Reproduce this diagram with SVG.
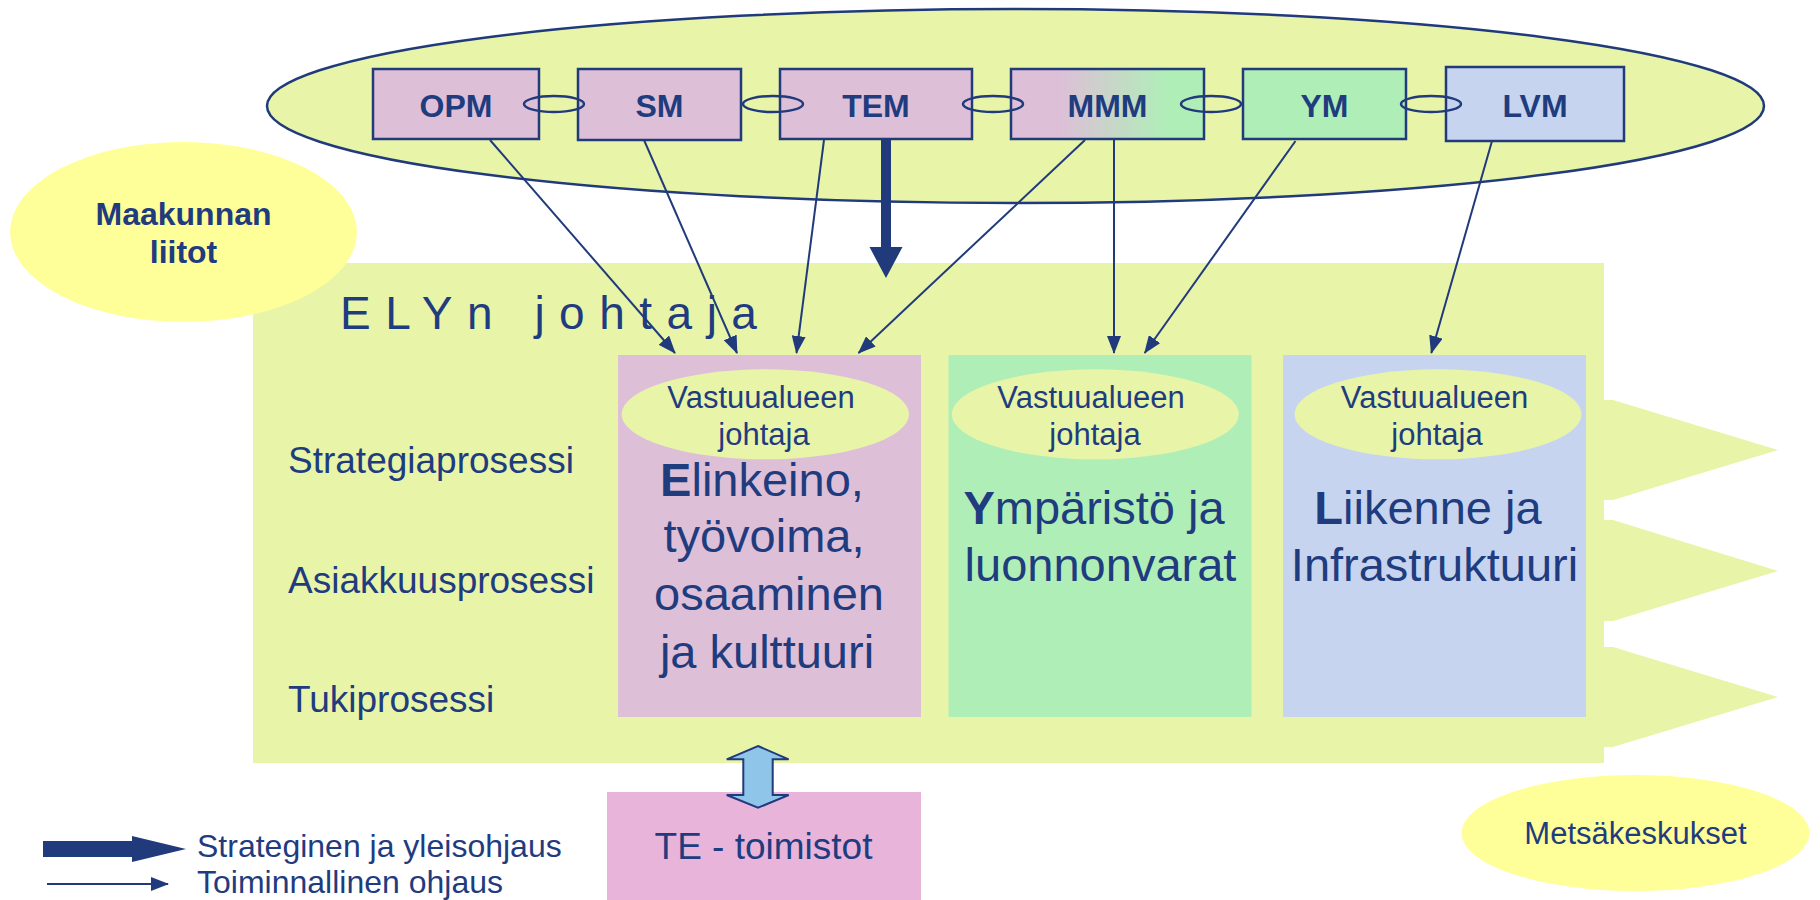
<svg xmlns="http://www.w3.org/2000/svg" width="1820" height="900" viewBox="0 0 1820 900">
<style>
text{font-family:"Liberation Sans",Arial,sans-serif;fill:#1F3C7F}
.box{stroke:#203A7C;stroke-width:2.5}
.lnk{fill:none;stroke:#203A7C;stroke-width:2.5}
.con{stroke:#203A7C;stroke-width:2;fill:none;marker-end:url(#ah)}
.bt{font-weight:bold;font-size:32px;text-anchor:middle}
.va{font-size:31px;text-anchor:middle}
.pt{font-size:47px;text-anchor:middle}
.lab{font-size:37px}
.leg{font-size:32px}
.main{fill:#E8F5A8}
</style>
<defs>
<marker id="ah" markerUnits="userSpaceOnUse" markerWidth="18" markerHeight="14" refX="17" refY="7" orient="auto" viewBox="0 0 18 14">
<path d="M0,0 L18,7 L0,14 z" fill="#203A7C"/>
</marker>
<linearGradient id="gmmm" x1="0" y1="0" x2="1" y2="0">
<stop offset="0.25" stop-color="#DEBFD8"/>
<stop offset="0.8" stop-color="#B0EEB8"/>
</linearGradient>
</defs>
<rect width="1820" height="900" fill="#FFFFFF"/>

<g id="ely">
<rect class="main" x="253" y="263" width="1351" height="500"/>
<polygon class="main" points="1604,400 1613,400 1778,450 1613,500 1604,500"/>
<polygon class="main" points="1604,520 1613,520 1778,571 1613,621 1604,621"/>
<polygon class="main" points="1604,647 1613,647 1778,697 1613,747 1604,747"/>
<text x="340" y="329" font-size="46" letter-spacing="14.5">ELYn johtaja</text>
<text class="lab" x="288" y="473">Strategiaprosessi</text>
<text class="lab" x="288" y="593">Asiakkuusprosessi</text>
<text class="lab" x="288" y="712">Tukiprosessi</text>
</g>

<g id="ministeriot">
<ellipse cx="1015.5" cy="106" rx="748.5" ry="97" fill="#E8F5A8" stroke="#203A7C" stroke-width="2.5"/>
</g>

<g id="maakunnan-liitot">
<ellipse cx="183.5" cy="232" rx="173.5" ry="90" fill="#FFFF99"/>
<text class="bt" x="183.5" y="225">Maakunnan</text>
<text class="bt" x="183.5" y="263">liitot</text>
</g>

<g id="OPM"><rect class="box" x="373" y="69" width="166" height="70" fill="#DEBFD8"/><text class="bt" x="456" y="117">OPM</text></g>
<g id="SM"><rect class="box" x="578" y="69" width="163" height="71" fill="#DEBFD8"/><text class="bt" x="659.5" y="117">SM</text></g>
<g id="TEM"><rect class="box" x="780" y="69" width="192" height="70" fill="#DEBFD8"/><text class="bt" x="876" y="117">TEM</text></g>
<g id="MMM"><rect class="box" x="1011" y="69" width="193" height="70" fill="url(#gmmm)"/><text class="bt" x="1107.5" y="117">MMM</text></g>
<g id="YM"><rect class="box" x="1243" y="69" width="163" height="70" fill="#B0EEB8"/><text class="bt" x="1324.5" y="117">YM</text></g>
<g id="LVM"><rect class="box" x="1446" y="67" width="178" height="74" fill="#C6D4F0"/><text class="bt" x="1535" y="117">LVM</text></g>

<g id="links">
<ellipse class="lnk" cx="554" cy="104" rx="30" ry="8"/>
<ellipse class="lnk" cx="773" cy="104" rx="30" ry="8"/>
<ellipse class="lnk" cx="993" cy="104" rx="30" ry="8"/>
<ellipse class="lnk" cx="1211" cy="104" rx="30" ry="8"/>
<ellipse class="lnk" cx="1431" cy="104" rx="30" ry="8"/>
</g>

<g id="elinkeino">
<rect x="618" y="355" width="303" height="362" fill="#DEBFD8"/>
<ellipse cx="765.3" cy="414.3" rx="143.7" ry="45" fill="#E8F5A8"/>
<text class="va" x="761" y="408">Vastuualueen</text>
<text class="va" x="764" y="445">johtaja</text>
<text class="pt" x="762" y="496"><tspan font-weight="bold">E</tspan>linkeino,</text>
<text class="pt" x="764" y="552">työvoima,</text>
<text class="pt" x="769" y="610">osaaminen</text>
<text class="pt" x="767" y="668">ja kulttuuri</text>
</g>

<g id="ymparisto">
<rect x="948.5" y="355" width="303" height="362" fill="#B0EEB8"/>
<ellipse cx="1095.3" cy="414.3" rx="143.5" ry="45" fill="#E8F5A8"/>
<text class="va" x="1091" y="408">Vastuualueen</text>
<text class="va" x="1095" y="445">johtaja</text>
<text class="pt" x="1094" y="524"><tspan font-weight="bold">Y</tspan>mpäristö ja</text>
<text class="pt" x="1100.5" y="581" font-size="50">luonnonvarat</text>
</g>

<g id="liikenne">
<rect x="1283" y="355" width="303" height="362" fill="#C6D4F0"/>
<ellipse cx="1438" cy="414.3" rx="143.5" ry="45" fill="#E8F5A8"/>
<text class="va" x="1434.5" y="408">Vastuualueen</text>
<text class="va" x="1437" y="445">johtaja</text>
<text class="pt" x="1428" y="524"><tspan font-weight="bold">L</tspan>iikenne ja</text>
<text class="pt" x="1434.5" y="581">Infrastruktuuri</text>
</g>

<g id="te-toimistot">
<rect x="607" y="792" width="314" height="108" fill="#E8B4DA"/>
<text x="763.5" y="859" font-size="37" text-anchor="middle">TE - toimistot</text>
</g>

<g id="metsakeskukset">
<ellipse cx="1635.5" cy="833" rx="174" ry="58" fill="#FFFF99"/>
<text x="1635.5" y="844" font-size="31" text-anchor="middle">Metsäkeskukset</text>
</g>

<g id="connectors">
<line class="con" x1="490" y1="140" x2="675" y2="353"/>
<line class="con" x1="644" y1="140" x2="737" y2="353"/>
<line class="con" x1="824" y1="140" x2="796.5" y2="353"/>
<line class="con" x1="1085" y1="140" x2="858.5" y2="353"/>
<line class="con" x1="1114" y1="140" x2="1114" y2="353"/>
<line class="con" x1="1295.5" y1="141" x2="1144.7" y2="353"/>
<line class="con" x1="1492" y1="141" x2="1431.3" y2="353"/>
<polygon points="881,140 891,140 891,247 902.5,247 886,278 869.5,247 881,247" fill="#203A7C"/>
<polygon points="758,746 788.7,759.3 772.7,759.3 772.7,795 788.7,795 758,807.7 726.7,795 743.3,795 743.3,759.3 726.7,759.3" fill="#8EC5E8" stroke="#203A7C" stroke-width="2"/>
</g>

<g id="legend">
<polygon points="43,841 132,841 132,836 186,849 132,862 132,857 43,857" fill="#203A7C"/>
<text class="leg" x="197" y="857">Strateginen ja yleisohjaus</text>
<line class="con" x1="47" y1="884" x2="168" y2="884"/>
<text class="leg" x="197" y="893">Toiminnallinen ohjaus</text>
</g>
</svg>
